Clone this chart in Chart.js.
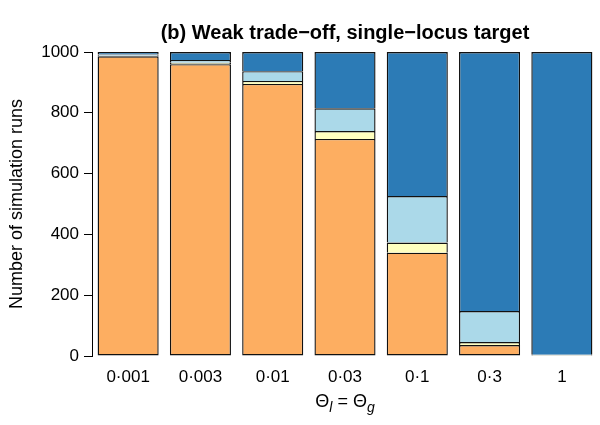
<!DOCTYPE html>
<html>
<head>
<meta charset="utf-8">
<script src="https://cdn.jsdelivr.net/npm/chart.js@4.4.1/dist/chart.umd.min.js"></script>
<style>
  html, body { margin: 0; padding: 0; background: #fff; }
  canvas { display: block; }
</style>
</head>
<body>
<canvas id="chart" width="600" height="425"></canvas>
<script>
// values (runs out of 1000 per setting)
const categories = ['0·001', '0·003', '0·01', '0·03', '0·1', '0·3', '1'];
const orangeRuns = [986, 960, 895, 714, 340, 36, 2];
const yellowRuns = [2, 5, 10, 26, 33, 10, 1];
const lightBlueRuns = [4, 9, 32, 75, 153, 102, 1];
const darkBlueRuns = [8, 26, 63, 185, 474, 852, 996];
const yTicks = [0, 200, 400, 600, 800, 1000];

const FONT = '"Liberation Sans", Arial, Helvetica, sans-serif';

// title and the x-axis label (Θ with italic subscripts) drawn over the plot centre
const labelsPlugin = {
    id: 'rLabels',
    afterDraw(chart) {
        const { ctx, chartArea } = chart;
        const cx = (chartArea.left + chartArea.right) / 2;
        ctx.save();
        ctx.fillStyle = '#000';
        ctx.textBaseline = 'middle';

        ctx.font = 'bold 20px ' + FONT;
        ctx.textAlign = 'center';
        ctx.fillText('(b) Weak trade−off, single−locus target', cx, 33);

        // Θl = Θg
        const parts = [
            { t: 'Θ', f: '18px ' + FONT, dy: 0 },
            { t: 'l', f: 'italic 14px ' + FONT, dy: 6 },
            { t: ' = Θ', f: '18px ' + FONT, dy: 0 },
            { t: 'g', f: 'italic 14px ' + FONT, dy: 6 }
        ];
        let total = 0;
        parts.forEach(p => { ctx.font = p.f; p.w = ctx.measureText(p.t).width; total += p.w; });
        let x = cx - total / 2;
        ctx.textAlign = 'left';
        parts.forEach(p => {
            ctx.font = p.f;
            ctx.fillText(p.t, x, 402 + p.dy);
            x += p.w;
        });
        ctx.restore();
    }
};

// bottom segment keeps all four edges, the ones stacked on it skip their bottom edge
const segment = (label, data, color, skip) => ({
    label,
    data,
    backgroundColor: color,
    borderColor: '#111',
    borderWidth: 1.4,
    borderSkipped: skip,
    categoryPercentage: 1,
    barPercentage: 0.845
});

new Chart(document.getElementById('chart'), {
    type: 'bar',
    data: {
        labels: categories,
        datasets: [
            segment('orange', orangeRuns, '#FDAE61', false),
            segment('yellow', yellowRuns, '#FFFFBF', 'bottom'),
            segment('light blue', lightBlueRuns, '#ABD9E9', 'bottom'),
            segment('dark blue', darkBlueRuns, '#2C7BB6', 'bottom')
        ]
    },
    options: {
        responsive: false,
        animation: false,
        layout: { padding: { top: 52, right: 2, left: 0, bottom: 0 } },
        plugins: {
            legend: { display: false },
            tooltip: { enabled: false }
        },
        scales: {
            x: {
                stacked: true,
                grid: { display: false, drawTicks: false },
                border: { display: false },
                ticks: { color: '#000', font: { family: FONT, size: 17 }, padding: 11, maxRotation: 0 },
                afterFit(scale) { scale.height = 69; }
            },
            y: {
                stacked: true,
                min: 0,
                max: 1000,
                afterBuildTicks(scale) { scale.ticks = yTicks.map(v => ({ value: v })); },
                grid: { drawOnChartArea: false, drawTicks: true, tickLength: 8, color: '#000' },
                border: { display: true, color: '#000', width: 1 },
                ticks: {
                    color: '#000',
                    font: { family: FONT, size: 17 },
                    padding: 5,
                    callback: v => String(v)
                },
                title: {
                    display: true,
                    text: 'Number of simulation runs',
                    color: '#000',
                    font: { family: FONT, size: 18 },
                    padding: { top: 6, bottom: 0 }
                },
                afterFit(scale) { scale.width = 92; }
            }
        }
    },
    plugins: [labelsPlugin]
});
</script>
</body>
</html>
